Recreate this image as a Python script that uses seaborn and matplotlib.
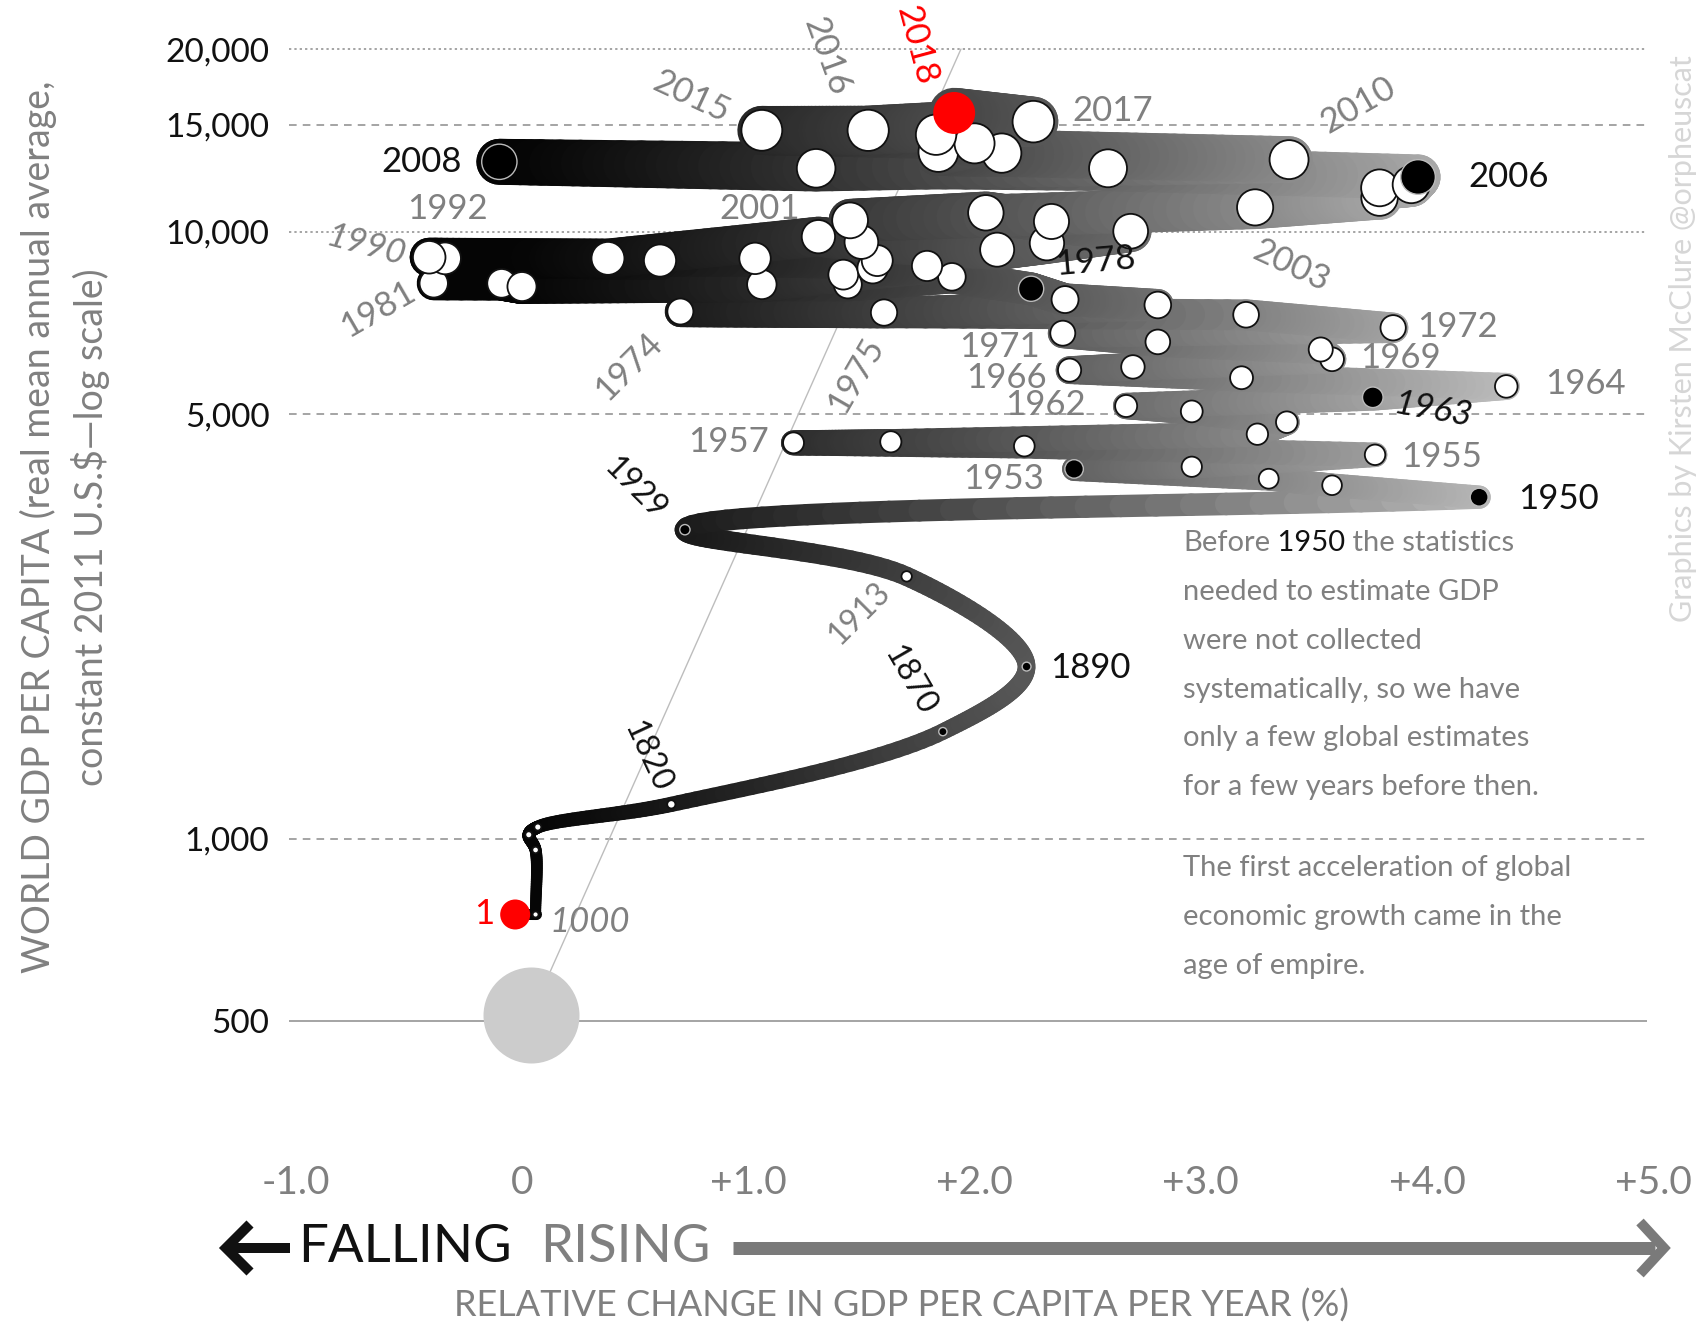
import numpy as np
import pandas as pd
import seaborn as sns
import matplotlib.pyplot as plt
from matplotlib.collections import LineCollection
from matplotlib.colors import LinearSegmentedColormap, PowerNorm
from matplotlib.lines import Line2D

# ---- data ----
# historical estimates before 1950
hist_years = [1, 1000, 1500, 1600, 1700, 1820, 1870, 1890, 1913, 1929]
hist_growth = [-0.03, 0.06, 0.06, 0.03, 0.07, 0.66, 1.86, 2.23, 1.70, 0.72]
hist_gdp = [750, 750, 958, 1015, 1045, 1139, 1501, 1921, 2705, 3229]
hist_pop = [0.23, 0.27, 0.44, 0.56, 0.60, 1.04, 1.27, 1.50, 1.79, 2.04]

# annual series 1950-2018
years = list(range(1950, 2019))
growth = [4.23, 3.58, 3.30, 2.44, 2.96, 3.77, 2.22, 1.20, 1.63, 3.25,
          3.38, 2.96, 2.67, 3.76, 4.35, 3.18, 2.42, 2.70, 3.58, 3.53,
          2.81, 2.39, 3.85, 3.20, 0.70, 1.60, 2.81, 2.40, 2.25, 1.90,
          1.44, -0.39, -0.09, 0.00, 1.06, 1.42, 1.79, 1.55, 1.57, 1.03,
          -0.34, 0.61, -0.41, 0.38, 1.31, 1.50, 2.10, 2.32, 2.69, 2.34,
          2.05, 1.45, 3.24, 3.79, 3.79, 3.93, 3.96, 2.59, -0.10, 1.30,
          3.39, 2.12, 1.84, 2.00, 1.83, 1.06, 1.53, 2.26, 1.91]
gdp = [3653, 3822, 3918, 4066, 4100, 4290, 4434, 4489, 4507, 4639,
       4855, 5058, 5163, 5336, 5561, 5747, 5915, 5988, 6164, 6397,
       6584, 6805, 6946, 7298, 7389, 7359, 7574, 7731, 8055, 8428,
       8188, 8222, 8222, 8122, 8188, 8498, 8783, 8710, 8965, 9039,
       9039, 8965, 9077, 9039, 9815, 9615, 9342, 9575, 10019, 10397,
       10745, 10440, 10968, 11383, 11812, 11959, 12309, 12721, 13039, 12721,
       13147, 13476, 13531, 13984, 14452, 14692, 14692, 15184, 15693]
pop = [2.536, 2.584, 2.631, 2.679, 2.728, 2.773, 2.821, 2.871, 2.922, 2.975,
       3.019, 3.066, 3.118, 3.180, 3.243, 3.306, 3.373, 3.439, 3.507, 3.577,
       3.700, 3.775, 3.850, 3.924, 3.998, 4.070, 4.141, 4.214, 4.286, 4.361,
       4.440, 4.520, 4.603, 4.686, 4.768, 4.852, 4.939, 5.027, 5.115, 5.202,
       5.290, 5.375, 5.459, 5.542, 5.624, 5.706, 5.786, 5.866, 5.945, 6.023,
       6.101, 6.179, 6.257, 6.334, 6.412, 6.489, 6.568, 6.646, 6.726, 6.806,
       6.886, 6.966, 7.048, 7.130, 7.212, 7.295, 7.378, 7.461, 7.543]

black_years = [1870, 1890, 1929, 1950, 1953, 1963, 1978, 2006, 2008]
red_years = [1, 2018]

ytick_vals = [20000, 15000, 10000, 5000, 1000, 500]
ytick_labels = ['20,000', '15,000', '10,000', '5,000', '1,000', '500']
xtick_vals = [-1, 0, 1, 2, 3, 4, 5]
xtick_labels = ['-1.0', '0', '+1.0', '+2.0', '+3.0', '+4.0', '+5.0']

# thin reference line and grey disc at the foot of the chart
ref_growth = [0.04, 1.94]
ref_gdp = [513, 20000]

# year labels: year, colour, offset px (dx, dy), rotation, style
year_labels = [
    (2008, 'k', -78, 0, 0, 'normal'), (2006, 'k', 91, 0, 0, 'normal'),
    (2017, 'g', 79, 11, 0, 'normal'), (2010, 'g', 69, 54, 30, 'normal'),
    (2015, 'g', -71, 33, -25, 'normal'), (2016, 'g', -42, 74, -70, 'normal'),
    (2018, 'r', -38, 68, -75, 'normal'), (1992, 'g', 18, 48, 0, 'normal'),
    (2001, 'g', -90, 11, 0, 'normal'), (1990, 'g', -79, 13, -15, 'italic'),
    (1981, 'g', -56, -26, 30, 'normal'), (1974, 'g', -52, -55, 45, 'normal'),
    (1975, 'g', -28, -62, 60, 'normal'), (1978, 'k', 64, 27, 5, 'normal'),
    (2003, 'g', -88, -68, -25, 'normal'), (1972, 'g', 64, 1, 0, 'normal'),
    (1969, 'g', 80, -9, 0, 'normal'), (1971, 'g', -63, -14, 0, 'normal'),
    (1966, 'g', -63, -8, 0, 'normal'), (1964, 'g', 79, 2, 0, 'normal'),
    (1963, 'k', 60, -13, -10, 'italic'), (1962, 'g', -81, 1, 0, 'normal'),
    (1957, 'g', -65, 1, 0, 'normal'), (1955, 'g', 67, -2, 0, 'normal'),
    (1953, 'g', -71, -10, 0, 'normal'), (1950, 'k', 79, -2, 0, 'normal'),
    (1929, 'k', -50, 41, -45, 'normal'), (1913, 'g', -47, -37, 45, 'normal'),
    (1890, 'k', 64, -1, 0, 'normal'), (1870, 'k', -33, 51, -60, 'normal'),
    (1820, 'k', -24, 48, -65, 'normal'), (1000, 'g', 54, -8, 0, 'italic'),
    (1, 'r', -31, 0, 0, 'normal'),
]

# ---- setup ----
sns.set_style("white")
plt.rcParams['font.family'] = ['Lato', 'DejaVu Sans']

W, H = 1702, 1329
GREY = '#808080'
COLS = {'k': '#111111', 'g': GREY, 'r': '#ff0000'}


def fx(p):
    return p / W


def fy(p):
    return 1 - p / H


fig = plt.figure(figsize=(W / 100, H / 100), dpi=100)
ax = fig.add_axes([fx(277.6), fy(1139), 1398.4 / W, (1139 - 12.2) / H])
ax.set_yscale('log')
ax.set_xlim(-1.08, 5.1)
ax.set_ylim(320, 23000)

df = pd.DataFrame({
    'year': hist_years + years,
    'growth': hist_growth + growth,
    'gdp': hist_gdp + gdp,
    'pop': hist_pop + pop,
})
df['diam'] = 8 + 4.5 * df['pop']
df.loc[df.year < 1950, 'diam'] *= 0.65
df.loc[df.year == 1, 'diam'] = 30
df['width'] = 1.2 * (8 + 4.5 * df['pop'])

# grid lines
ax.hlines([20000, 10000], -1.03, 4.97, colors='#8c8c8c', lw=1.1, linestyles=(0, (1.5, 2)), zorder=0)
ax.hlines([15000, 5000, 1000], -1.03, 4.97, colors='#8c8c8c', lw=1.1, linestyles=(0, (5, 4)), zorder=0)
ax.hlines([500], -1.03, 4.97, colors='#8c8c8c', lw=1.1, zorder=0)

ax.plot(ref_growth, ref_gdp, color='#bdbdbd', lw=1, zorder=1)
ax.scatter(ref_growth[:1], ref_gdp[:1], s=(96 * 0.72) ** 2, color='#cccccc', lw=0, zorder=1)


# ---- the thick path ----
def catmull_rom(P, n=30):
    P = np.asarray(P, float)
    ext = np.vstack([2 * P[0] - P[1], P, 2 * P[-1] - P[-2]])
    pts, seg, frac = [], [], []
    for i in range(1, len(ext) - 2):
        p0, p1, p2, p3 = ext[i - 1], ext[i], ext[i + 1], ext[i + 2]
        t0 = 0.0
        t1 = t0 + np.linalg.norm(p1 - p0) ** 0.5
        t2 = t1 + np.linalg.norm(p2 - p1) ** 0.5
        t3 = t2 + np.linalg.norm(p3 - p2) ** 0.5
        t = np.linspace(t1, t2, n, endpoint=False)[:, None]
        A1 = (t1 - t) / (t1 - t0) * p0 + (t - t0) / (t1 - t0) * p1
        A2 = (t2 - t) / (t2 - t1) * p1 + (t - t1) / (t2 - t1) * p2
        A3 = (t3 - t) / (t3 - t2) * p2 + (t - t2) / (t3 - t2) * p3
        B1 = (t2 - t) / (t2 - t0) * A1 + (t - t0) / (t2 - t0) * A2
        B2 = (t3 - t) / (t3 - t1) * A2 + (t - t1) / (t3 - t1) * A3
        pts.append((t2 - t) / (t2 - t1) * B1 + (t - t1) / (t2 - t1) * B2)
        seg += [i - 1] * n
        frac += list(((t - t1) / (t2 - t1)).ravel())
    return np.vstack(pts), np.array(seg), np.array(frac)


px = ax.transData.transform(df[['growth', 'gdp']].values)
wid = df['width'].values

dense, dw = [], []
# year 1 -> 1000
t = np.linspace(0, 1, 6, endpoint=False)[:, None]
dense.append(px[0] + (px[1] - px[0]) * t)
dw.append(wid[0] + (wid[1] - wid[0]) * t.ravel())
# smooth curve 1000 ... 1950
i50 = len(hist_years)
curve, sidx, sfr = catmull_rom(px[1:i50 + 1])
dense.append(curve)
dw.append(wid[1:][sidx] + (wid[2:][np.minimum(sidx, len(wid) - 3)] - wid[1:][sidx]) * sfr)
# annual, straight steps
t = np.linspace(0, 1, 30, endpoint=False)[:, None]
for k in range(i50, len(df) - 1):
    dense.append(px[k] + (px[k + 1] - px[k]) * t)
    dw.append(wid[k] + (wid[k + 1] - wid[k]) * t.ravel())
dense.append(px[-1:])
dw.append(wid[-1:])
dense = ax.transData.inverted().transform(np.vstack(dense))
dw = np.concatenate(dw)

segs = np.stack([dense[:-1], dense[1:]], axis=1)
mid_x = np.clip((dense[:-1, 0] + dense[1:, 0]) / 2, 0, 4.5)
cmap = LinearSegmentedColormap.from_list('band', ['#050505', '#c4c4c4'])
norm = PowerNorm(1.2, vmin=0, vmax=4.5)
lc = LineCollection(segs, linewidths=(dw[:-1] + dw[1:]) / 2 * 0.72,
                    colors=cmap(norm(mid_x)), capstyle='round', zorder=2)
ax.add_collection(lc)

# ---- circles ----
df['s'] = (df['diam'] * 0.72) ** 2
white = df[~df.year.isin(black_years + red_years)]
black = df[df.year.isin(black_years)]
red = df[df.year.isin(red_years)]
sns.scatterplot(data=white, x='growth', y='gdp', s=white['s'].values, color='white',
                edgecolor='#111111', linewidth=1.3, zorder=3, ax=ax, legend=False)
sns.scatterplot(data=black, x='growth', y='gdp', s=(black['s'] * 0.85).values, color='black',
                edgecolor='#bbbbbb', linewidth=1.0, zorder=3, ax=ax, legend=False)
sns.scatterplot(data=red, x='growth', y='gdp', s=red['s'].values, color='#ff0000',
                edgecolor='none', linewidth=0, zorder=3, ax=ax, legend=False)

lookup = df.set_index('year')
for yr, c, dx, dy, rot, style in year_labels:
    fs = 23 if yr in (1820, 1870, 1913, 1929) else 25
    ax.annotate(str(yr), xy=(lookup.loc[yr, 'growth'], lookup.loc[yr, 'gdp']),
                xytext=(dx, dy), textcoords='offset pixels', ha='center', va='center',
                rotation=rot, rotation_mode='anchor', color=COLS[c], fontsize=fs,
                fontstyle=style, zorder=5)

# ---- axes cosmetics ----
ax.set_xlim(-1.08, 5.1)
ax.set_ylim(320, 23000)
ax.set_xlabel('')
ax.set_ylabel('')
ax.set_yticks(ytick_vals, ytick_labels)
ax.set_xticks(xtick_vals, xtick_labels)
ax.minorticks_off()
ax.tick_params(axis='y', length=0, pad=6, labelsize=24, labelcolor='#111111')
ax.tick_params(axis='x', length=0, pad=19, labelsize=28, labelcolor=GREY)
sns.despine(ax=ax, left=True, bottom=True)

fig.text(fx(65), fy(527), 'WORLD GDP PER CAPITA (real mean annual average,\nconstant 2011 U.S.\\$\u2014log scale)',
         rotation=90, ha='center', va='center', multialignment='center',
         fontsize=27, color=GREY, linespacing=1.45)
fig.text(fx(1683), fy(339), 'Graphics by Kirsten McClure @orpheuscat', rotation=90,
         ha='center', va='center', fontsize=22, color='#d6d6d6')
fig.text(fx(902), fy(1306), 'RELATIVE CHANGE IN GDP PER CAPITA PER YEAR (%)',
         ha='center', va='center', fontsize=26, color=GREY)
fig.text(fx(298), fy(1248), 'FALLING', ha='left', va='center', fontsize=38, color='#111111')
fig.text(fx(540), fy(1248), 'RISING', ha='left', va='center', fontsize=38, color=GREY)

arrow_grey = '#7a7a7a'
fig.add_artist(Line2D([fx(733), fx(1655)], [fy(1248)] * 2, lw=13 * 0.72, color=arrow_grey,
                      solid_capstyle='butt'))
fig.add_artist(Line2D([fx(1640), fx(1664), fx(1640)], [fy(1222), fy(1248), fy(1274)],
                      lw=10 * 0.72, color=arrow_grey, solid_joinstyle='miter', solid_capstyle='butt'))
fig.add_artist(Line2D([fx(232), fx(290)], [fy(1248)] * 2, lw=10 * 0.72, color='#111111',
                      solid_capstyle='butt'))
fig.add_artist(Line2D([fx(250), fx(226), fx(250)], [fy(1224), fy(1248), fy(1272)],
                      lw=10 * 0.72, color='#111111', solid_joinstyle='miter', solid_capstyle='butt'))

# notes
note_fs = 21
t = fig.text(fx(1183), fy(543), 'Before', color=GREY, fontsize=note_fs, va='center')
t = ax.annotate(' 1950', xy=(1, 0), xycoords=t, va='bottom', color='#111111', fontsize=note_fs)
ax.annotate(' the statistics', xy=(1, 0), xycoords=t, va='bottom', color=GREY, fontsize=note_fs)
notes1 = ['needed to estimate GDP', 'were not collected', 'systematically, so we have',
          'only a few global estimates', 'for a few years before then.']
for i, line in enumerate(notes1):
    fig.text(fx(1183), fy(592 + 48.8 * i), line, color=GREY, fontsize=note_fs, va='center')
notes2 = ['The first acceleration of global', 'economic growth came in the', 'age of empire.']
for i, line in enumerate(notes2):
    fig.text(fx(1183), fy(868 + 49 * i), line, color=GREY, fontsize=note_fs, va='center')

fig.savefig('out.png', dpi=100, facecolor='white')
